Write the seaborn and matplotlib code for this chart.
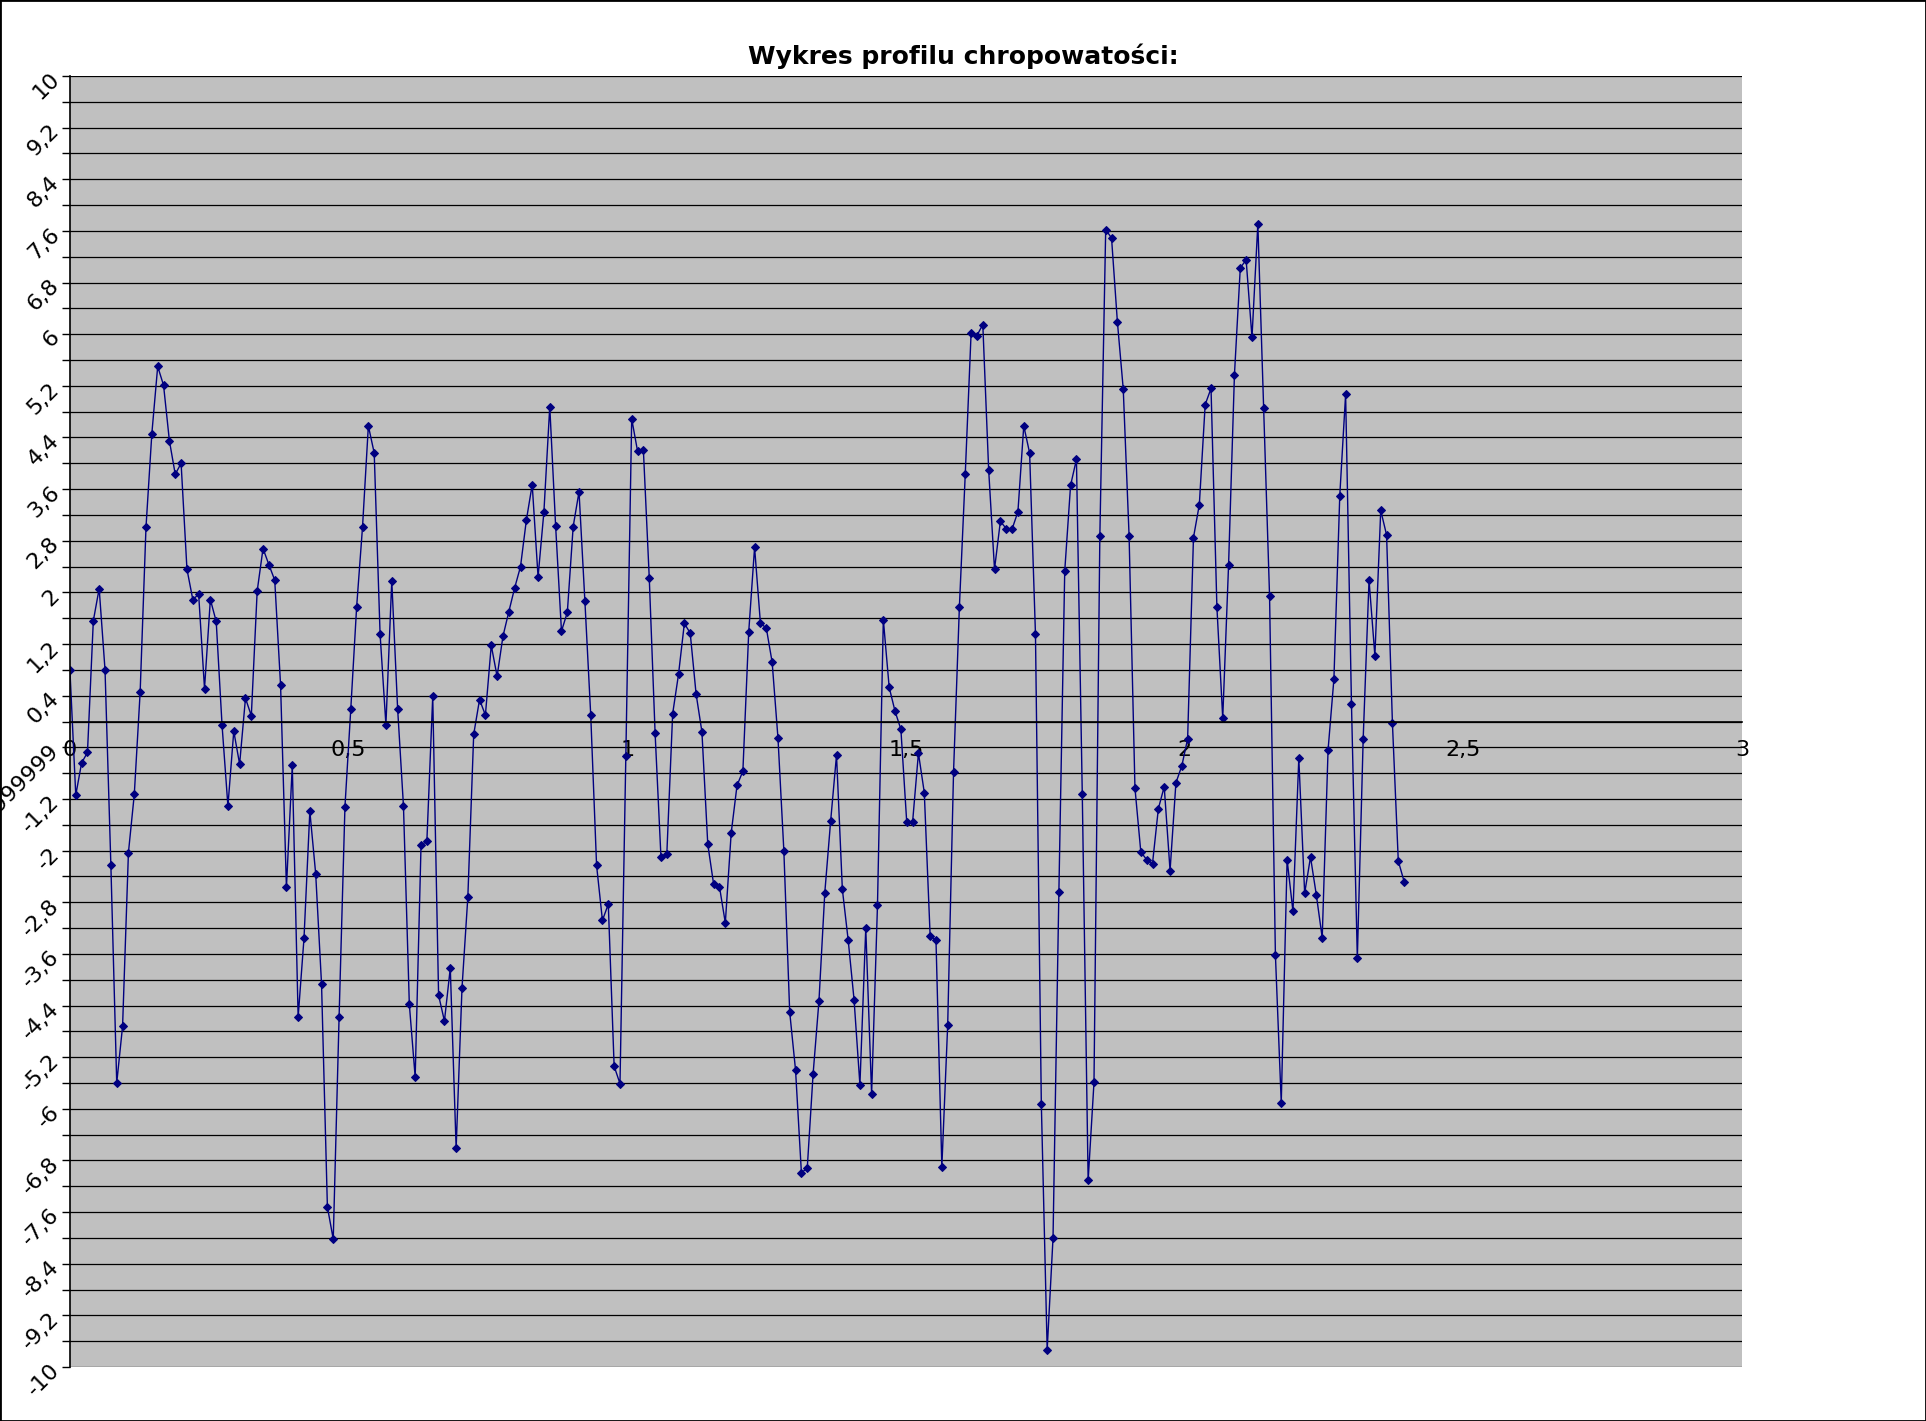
import numpy as np
import pandas as pd
import seaborn as sns
import matplotlib.pyplot as plt

# profile samples (height); constant sampling step along x
step = 0.0105
heights = [
    0.80, -1.14, -0.64, -0.48, 1.56, 2.06, 0.80, -2.23, -5.60, -4.72,
    -2.03, -1.13, 0.45, 3.01, 4.46, 5.50, 5.21, 4.35, 3.83, 4.00,
    2.36, 1.89, 1.97, 0.51, 1.89, 1.55, -0.06, -1.31, -0.15, -0.66,
    0.36, 0.09, 2.02, 2.68, 2.43, 2.19, 0.56, -2.57, -0.68, -4.58,
    -3.36, -1.39, -2.36, -4.07, -7.52, -8.02, -4.57, -1.32, 0.20, 1.78,
    3.01, 4.58, 4.16, 1.36, -0.05, 2.18, 0.20, -1.31, -4.38, -5.51,
    -1.92, -1.85, 0.39, -4.24, -4.64, -3.82, -6.61, -4.13, -2.72, -0.20,
    0.34, 0.10, 1.18, 0.70, 1.32, 1.70, 2.07, 2.40, 3.12,
    3.67, 2.24, 3.25, 4.88, 3.03, 1.40, 1.69, 3.02, 3.56, 1.87,
    0.10, -2.23, -3.08, -2.83, -5.34, -5.61, -0.53, 4.69, 4.19, 4.20,
    2.23, -0.18, -2.10, -2.06, 0.12, 0.73, 1.52, 1.37, 0.43, -0.16,
    -1.90, -2.52, -2.56, -3.12, -1.73, -0.99, -0.77, 1.39, 2.70,
    1.52, 1.45, 0.92, -0.26, -2.00, -4.50, -5.40, -6.99, -6.92, -5.46,
    -4.33, -2.65, -1.54, -0.52, -2.60, -3.39, -4.31, -5.63, -3.20, -5.77,
    -2.85, 1.58, 0.53, 0.16, -0.12, -1.56, -1.56, -0.49, -1.10, -3.32,
    -3.39, -6.90, -4.70, -0.78, 1.78, 3.83, 6.02, 5.98, 6.15, 3.90,
    2.36, 3.10, 2.99, 2.98, 3.25, 4.58, 4.16, 1.35, -5.92, -9.73,
    -8.00, -2.64, 2.33, 3.66, 4.06, -1.13, -7.11, -5.59, 2.87, 7.62,
    7.49, 6.19, 5.15, 2.87, -1.03, -2.02, -2.14, -2.20, -1.35, -1.01,
    -2.31, -0.95, -0.69, -0.27, 2.85, 3.36, 4.91, 5.16, 1.78,
    0.05, 2.43, 5.37, 7.03, 7.15, 5.95, 7.71, 4.85, 1.95, -3.61,
    -5.91, -2.14, -2.94, -0.57, -2.66, -2.10, -2.69, -3.35, -0.44, 0.66,
    3.50, 5.07, 0.27, -3.67, -0.27, 2.19, 1.02, 3.27, 2.89, -0.03,
    -2.16, -2.48,
]

x_ticks = [0, 0.5, 1, 1.5, 2, 2.5, 3]
x_labels = ["0", "0,5", "1", "1,5", "2", "2,5", "3"]
y_labels = ["-10", "-9,2", "-8,4", "-7,6", "-6,8", "-6", "-5,2", "-4,4", "-3,6",
            "-2,8", "-2", "-1,2", "-0,399999999999999", "0,4", "1,2", "2", "2,8",
            "3,6", "4,4", "5,2", "6", "6,8", "7,6", "8,4", "9,2", "10"]

df = pd.DataFrame({"x": np.arange(len(heights)) * step, "y": heights})

fig = plt.figure(figsize=(19.26, 14.21), dpi=100)
ax = fig.add_axes([0.0363, 0.038, 0.8681, 0.9085])
ax.set_facecolor("#C0C0C0")

sns.lineplot(data=df, x="x", y="y", ax=ax, color="#000080", linewidth=1.0,
             marker="D", markersize=4.5, markeredgecolor="#000080", sort=False)

ax.set_xlim(0, 3)
ax.set_ylim(-10, 10)

# axis line of x sits at y = 0 (do this before styling the tick labels)
ax.spines["bottom"].set_position(("data", 0))
ax.spines["bottom"].set_linewidth(1.2)
ax.spines["left"].set_linewidth(1.2)
ax.spines["right"].set_visible(False)
ax.spines["top"].set_visible(False)

# y: labels every 0.8, gridlines every 0.4
ax.set_yticks(np.linspace(-10, 10, 26))
ax.set_yticks(np.linspace(-9.6, 9.6, 25), minor=True)
ax.set_yticklabels(y_labels, fontsize=16)
plt.setp(ax.get_yticklabels(), rotation=45, ha="right", va="center",
         rotation_mode="anchor")
ax.tick_params(axis="y", which="both", direction="out", length=6, width=1, pad=4)
ax.grid(axis="y", which="both", color="black", linewidth=0.9)
ax.grid(axis="x", visible=False)
ax.set_axisbelow(True)

ax.set_xticks(x_ticks)
ax.set_xticklabels(x_labels)
ax.tick_params(axis="x", length=0, pad=13, labelsize=16)

ax.set_xlabel("")
ax.set_ylabel("")

fig.text(0.5, 1 - 56 / 1421, "Wykres profilu chropowatości:", ha="center",
         va="center", fontsize=18, fontweight="bold")

fig.add_artist(plt.Rectangle((0, 0), 1, 1, transform=fig.transFigure,
                             fill=False, edgecolor="black", linewidth=2))

fig.savefig("out.png", dpi=100)
